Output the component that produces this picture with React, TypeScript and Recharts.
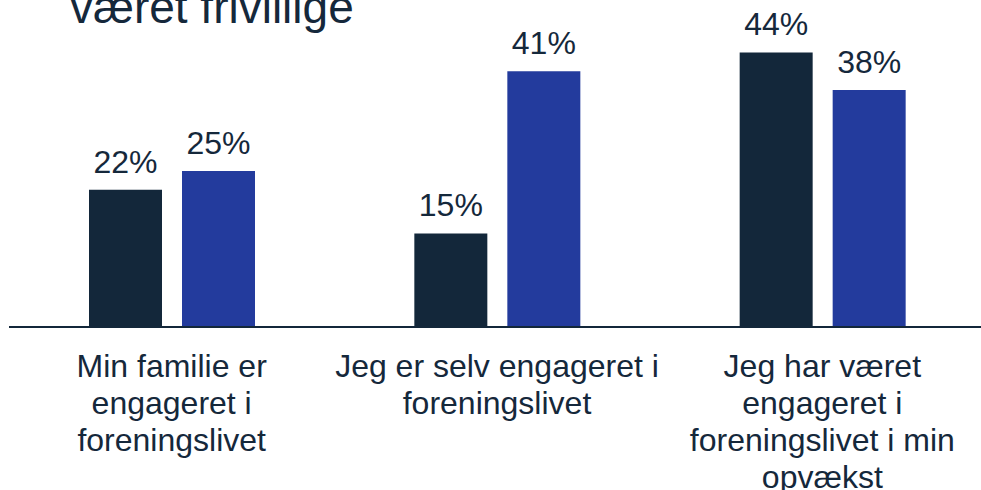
import { BarChart, Bar, XAxis, YAxis, LabelList } from 'recharts';

const categories = [
  'Min familie er|engageret i|foreningslivet',
  'Jeg er selv engageret i|foreningslivet',
  'Jeg har været|engageret i|foreningslivet i min|opvækst',
];
const seriesA = [22, 15, 44];
const seriesB = [25, 41, 38];

const DARK = '#13273a';
const BLUE = '#233b9d';
const TEXT = '#15283b';
const FONT = '"Liberation Sans", Arial, sans-serif';

const data = categories.map((c, i) => ({ label: c, a: seriesA[i], b: seriesB[i] }));

function CategoryTick({ x, y, payload }: { x: number; y: number; payload: { value: string } }) {
  const lines = payload.value.split('|');
  return (
    <text x={x} y={y} textAnchor="middle" fontSize={32} fill={TEXT} fontFamily={FONT}>
      {lines.map((line, i) => (
        <tspan key={i} x={x} y={y + 50 + i * 37}>
          {line}
        </tspan>
      ))}
    </text>
  );
}

export default function App() {
  return (
    <div style={{ position: 'absolute', left: 0, top: 0, width: 981, height: 490, background: '#fff', overflow: 'hidden' }}>
      <svg width={981} height={60} style={{ position: 'absolute', left: 0, top: 0 }}>
        <text x={70} y={23} fontSize={46} fill={TEXT} fontFamily={FONT}>
          været frivillige
        </text>
      </svg>
      <div style={{ position: 'absolute', left: 0, top: 0 }}>
        <BarChart
          width={981}
          height={490}
          data={data}
          margin={{ top: 15, right: -4, left: 9, bottom: 0 }}
          barSize={73}
          barGap={20}
        >
          <XAxis
            dataKey="label"
            height={163}
            tickLine={false}
            tickSize={0}
            tickMargin={0}
            interval={0}
            axisLine={{ stroke: DARK, strokeWidth: 2 }}
            tick={CategoryTick}
          />
          <YAxis hide domain={[0, 50]} />
          <Bar dataKey="a" fill={DARK} isAnimationActive={false}>
            <LabelList
              dataKey="a"
              position="top"
              offset={17}
              formatter={(v: number) => `${v}%`}
              fill={TEXT}
              fontSize={32}
              fontFamily={FONT}
            />
          </Bar>
          <Bar dataKey="b" fill={BLUE} isAnimationActive={false}>
            <LabelList
              dataKey="b"
              position="top"
              offset={17}
              formatter={(v: number) => `${v}%`}
              fill={TEXT}
              fontSize={32}
              fontFamily={FONT}
            />
          </Bar>
        </BarChart>
      </div>
    </div>
  );
}
